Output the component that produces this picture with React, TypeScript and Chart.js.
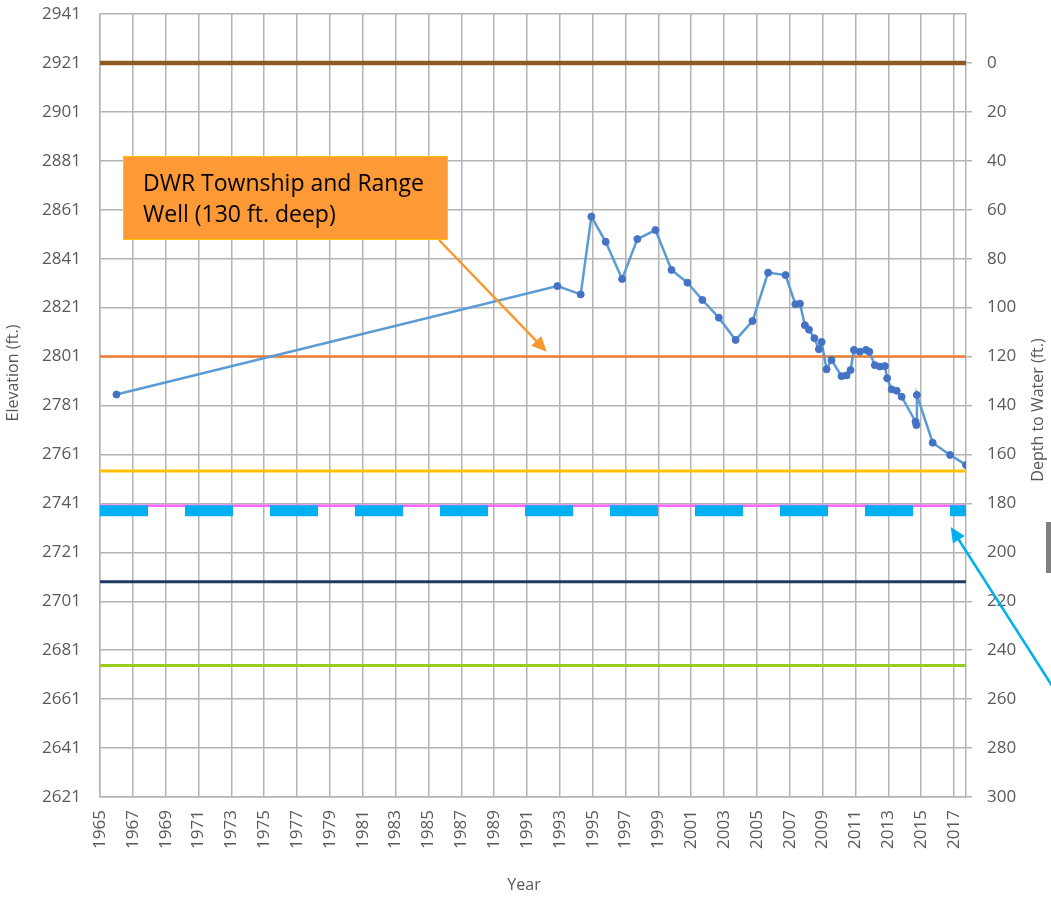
import React, { useEffect, useRef } from 'react';
import { Chart, registerables } from 'chart.js';

Chart.register(...registerables);

// ---- Data ----
const sampleYears = [
  1966.0, 1992.85, 1994.27, 1994.92, 1995.79, 1996.79, 1997.72, 1998.82, 1999.8, 2000.77,
  2001.68, 2002.68, 2003.7, 2004.73, 2005.68, 2006.74, 2007.34, 2007.62, 2007.92, 2008.17,
  2008.5, 2008.77, 2008.94, 2009.24, 2009.54, 2010.15, 2010.46, 2010.7, 2010.91, 2011.27,
  2011.64, 2011.84, 2012.18, 2012.49, 2012.79, 2012.93, 2013.2, 2013.51, 2013.81, 2014.66,
  2014.71, 2014.74, 2015.7, 2016.76, 2017.73,
];
const waterElevations = [
  2785.5, 2829.8, 2826.4, 2858.2, 2847.9, 2832.7, 2849.0, 2852.7, 2836.4, 2831.2,
  2824.1, 2816.9, 2807.8, 2815.5, 2835.3, 2834.3, 2822.4, 2822.6, 2813.8, 2812.0,
  2808.5, 2804.0, 2807.0, 2795.8, 2799.6, 2793.0, 2793.3, 2795.5, 2803.7, 2803.0,
  2803.7, 2803.0, 2797.5, 2796.9, 2797.1, 2792.1, 2787.6, 2787.0, 2784.6, 2774.4,
  2773.0, 2785.3, 2765.8, 2760.8, 2756.7,
];

// Reference elevation lines (ft.)
const landSurfaceElevation = 2921;
const orangeLevel = 2801;
const goldLevel = 2754.2;
const pinkLevel = 2740;
const blueDashLevel = 2738;
const navyLevel = 2709;
const greenLevel = 2674.7;

const xMin = 1965;
const xMax = 2017.73;
const yearTicks = [
  1965, 1967, 1969, 1971, 1973, 1975, 1977, 1979, 1981, 1983, 1985, 1987, 1989, 1991,
  1993, 1995, 1997, 1999, 2001, 2003, 2005, 2007, 2009, 2011, 2013, 2015, 2017,
];
const elevationTicks = [
  2621, 2641, 2661, 2681, 2701, 2721, 2741, 2761, 2781, 2801, 2821, 2841, 2861, 2881, 2901, 2921, 2941,
];
const depthTicks = [0, 20, 40, 60, 80, 100, 120, 140, 160, 180, 200, 220, 240, 260, 280, 300];

const calloutLines = ['DWR Township and Range', 'Well (130 ft. deep)'];
const leftTitle = 'Elevation (ft.)';
const rightTitle = 'Depth to Water (ft.)';
const xTitle = 'Year';

const FONT = '"Open Sans", sans-serif';
const TICK_COLOR = '#595959';
const GRID_COLOR = '#B4B4B4';

function refLine(level: number, color: string, width: number, dash?: number[]) {
  return {
    label: String(level),
    data: [
      { x: xMin, y: level },
      { x: xMax, y: level },
    ],
    borderColor: color,
    backgroundColor: color,
    borderWidth: width,
    borderDash: dash || [],
    borderCapStyle: 'butt' as const,
    pointRadius: 0,
    showLine: true,
    yAxisID: 'y',
  };
}

function drawArrow(ctx: CanvasRenderingContext2D, x1: number, y1: number, x2: number, y2: number, color: string) {
  const ang = Math.atan2(y2 - y1, x2 - x1);
  const head = 15;
  const hw = 7;
  ctx.save();
  ctx.strokeStyle = color;
  ctx.fillStyle = color;
  ctx.lineWidth = 2.5;
  ctx.beginPath();
  ctx.moveTo(x1, y1);
  ctx.lineTo(x2 - Math.cos(ang) * head * 0.8, y2 - Math.sin(ang) * head * 0.8);
  ctx.stroke();
  ctx.beginPath();
  ctx.moveTo(x2, y2);
  ctx.lineTo(x2 - Math.cos(ang) * head - Math.sin(ang) * hw, y2 - Math.sin(ang) * head + Math.cos(ang) * hw);
  ctx.lineTo(x2 - Math.cos(ang) * head + Math.sin(ang) * hw, y2 - Math.sin(ang) * head - Math.cos(ang) * hw);
  ctx.closePath();
  ctx.fill();
  ctx.restore();
}

const decorPlugin = {
  id: 'decor',
  afterDraw(chart: any) {
    const ctx: CanvasRenderingContext2D = chart.ctx;
    const xs = chart.scales.x;
    const ys = chart.scales.y;

    // Callout box
    ctx.save();
    ctx.fillStyle = '#FD9A36';
    ctx.strokeStyle = '#FFC000';
    ctx.lineWidth = 1;
    ctx.fillRect(123, 156, 325, 84);
    ctx.strokeRect(123.5, 156.5, 324, 83);
    ctx.fillStyle = '#000000';
    ctx.font = `23px ${FONT}`;
    ctx.textBaseline = 'alphabetic';
    ctx.textAlign = 'left';
    ctx.fillText(calloutLines[0], 143, 191);
    ctx.fillText(calloutLines[1], 143, 222);
    ctx.restore();

    // Orange arrow from callout to the well line
    drawArrow(ctx, 439, 240, xs.getPixelForValue(1992.2), ys.getPixelForValue(2803), '#F7992F');
    // Blue arrow pointing to the dashed line
    drawArrow(ctx, 1056, 692, xs.getPixelForValue(2016.8), ys.getPixelForValue(2731.3), '#00B0F0');

    // Small gray bar at the right edge
    ctx.save();
    ctx.fillStyle = '#808080';
    ctx.fillRect(1046, 522, 5, 51);
    ctx.restore();

    // Axis titles
    ctx.save();
    ctx.fillStyle = TICK_COLOR;
    ctx.font = `16px ${FONT}`;
    ctx.textAlign = 'center';
    ctx.textBaseline = 'middle';
    ctx.fillText(xTitle, 524, 885);
    ctx.translate(13, 373);
    ctx.rotate(-Math.PI / 2);
    ctx.fillText(leftTitle, 0, 0);
    ctx.restore();

    ctx.save();
    ctx.fillStyle = TICK_COLOR;
    ctx.font = `16px ${FONT}`;
    ctx.textAlign = 'center';
    ctx.textBaseline = 'middle';
    ctx.translate(1038, 410);
    ctx.rotate(-Math.PI / 2);
    ctx.fillText(rightTitle, 0, 0);
    ctx.restore();
  },
};

function fixVertical(width: number) {
  return (s: any) => {
    s.width = width;
    s.paddingTop = 0;
    s.paddingBottom = 0;
  };
}

export default function App() {
  const ref = useRef<HTMLCanvasElement | null>(null);

  useEffect(() => {
    if (!ref.current) return;
    const points = sampleYears.map((x, i) => ({ x, y: waterElevations[i] }));
    const chart = new Chart(ref.current, {
      type: 'scatter',
      data: {
        datasets: [
          {
            label: 'Water level elevation',
            data: points,
            showLine: true,
            borderColor: '#5B9BD5',
            borderWidth: 2.5,
            pointRadius: 3.5,
            pointBackgroundColor: '#4472C4',
            pointBorderColor: '#4472C4',
            pointBorderWidth: 1,
            yAxisID: 'y',
          } as any,
          refLine(landSurfaceElevation, '#8C5A22', 4.5),
          refLine(orangeLevel, '#ED7D31', 2.5),
          refLine(blueDashLevel, '#00B0F0', 11, [48, 37]),
          refLine(pinkLevel, '#FF66FF', 2.5),
          refLine(goldLevel, '#FFC000', 3),
          refLine(navyLevel, '#1F3864', 3),
          refLine(greenLevel, '#9BCB1C', 3),
        ],
      },
      options: {
        animation: false,
        responsive: false,
        devicePixelRatio: 1,
        layout: { padding: { top: 14, left: 0, right: 0, bottom: 0 } },
        plugins: {
          legend: { display: false },
          tooltip: { enabled: false },
        },
        scales: {
          x: {
            type: 'linear',
            min: xMin,
            max: xMax,
            afterBuildTicks: (s: any) => {
              s.ticks = yearTicks.map((v) => ({ value: v }));
            },
            afterFit: (s: any) => {
              s.height = 100;
              s.paddingLeft = 0;
              s.paddingRight = 0;
            },
            grid: { color: GRID_COLOR, lineWidth: 1.5, drawTicks: false },
            border: { color: GRID_COLOR, width: 1.5 },
            ticks: {
              autoSkip: false,
              minRotation: 90,
              maxRotation: 90,
              padding: 13,
              color: TICK_COLOR,
              font: { family: FONT, size: 17 },
              callback: (v: any) => String(v),
            },
          },
          y: {
            type: 'linear',
            position: 'left',
            min: 2621,
            max: 2941,
            afterBuildTicks: (s: any) => {
              s.ticks = elevationTicks.map((v) => ({ value: v }));
            },
            afterFit: fixVertical(100),
            grid: { color: GRID_COLOR, lineWidth: 1.5, drawTicks: false },
            border: { color: GRID_COLOR, width: 1.5 },
            ticks: {
              padding: 19,
              color: TICK_COLOR,
              font: { family: FONT, size: 17 },
              callback: (v: any) => String(v),
            },
          },
          depth: {
            type: 'linear',
            position: 'right',
            reverse: true,
            min: -20,
            max: 300,
            afterBuildTicks: (s: any) => {
              s.ticks = depthTicks.map((v) => ({ value: v }));
            },
            afterFit: fixVertical(85),
            grid: { drawOnChartArea: false, color: GRID_COLOR, lineWidth: 1.5, tickLength: 6 },
            border: { color: GRID_COLOR, width: 1.5 },
            ticks: {
              padding: 15,
              color: TICK_COLOR,
              font: { family: FONT, size: 17 },
              callback: (v: any) => String(v),
            },
          },
        },
      } as any,
      plugins: [decorPlugin],
    });
    return () => chart.destroy();
  }, []);

  return (
    <canvas
      ref={ref}
      width={1051}
      height={897}
      style={{ position: 'absolute', left: 0, top: 0, width: 1051, height: 897, display: 'block' }}
    />
  );
}
